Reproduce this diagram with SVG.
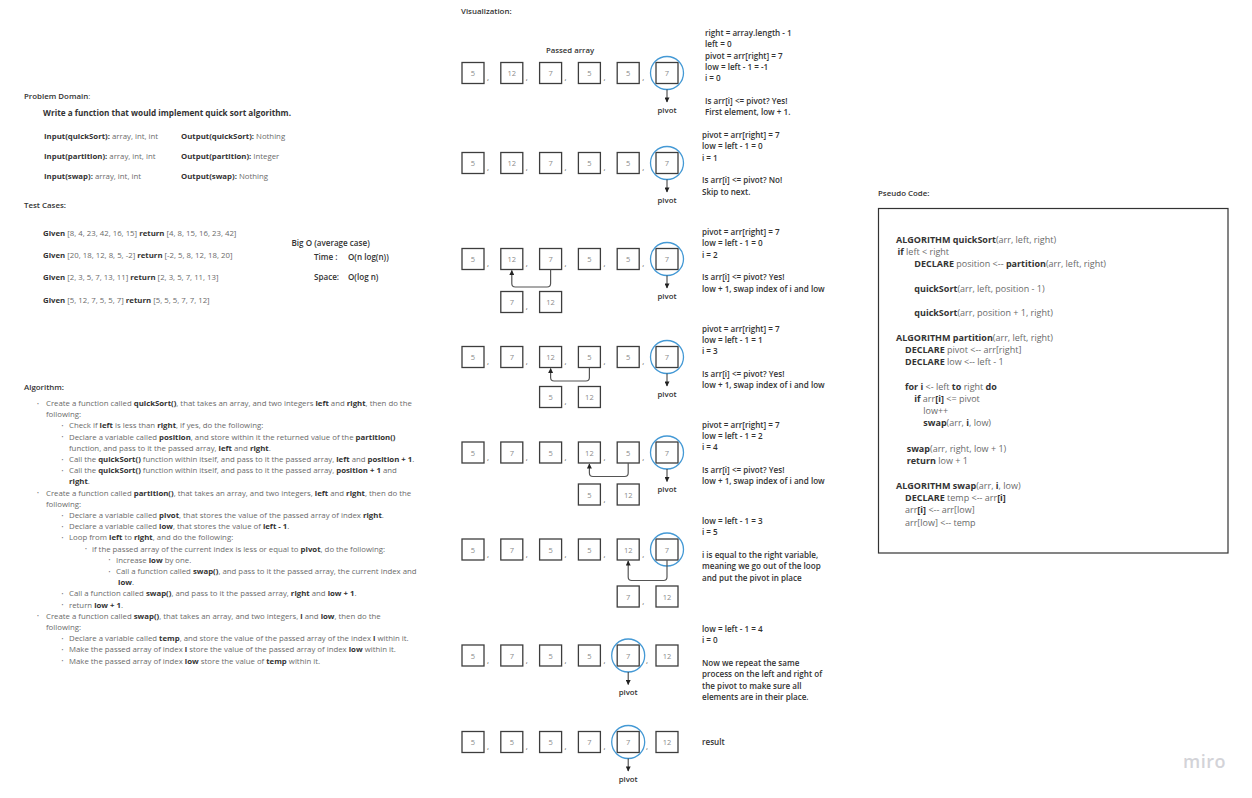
<svg xmlns="http://www.w3.org/2000/svg" width="1252" height="798" viewBox="0 0 1252 798">
<style>
text{font-family:"Open Sans","Liberation Sans",sans-serif;}
.h{font-size:7.9px;font-weight:600;fill:#333}
.bo{font-size:8.1px;font-weight:600;fill:#333}
.r{fill:#6a6a6a}
.b{font-weight:700;fill:#333}
.pd{font-size:7.8px;fill:#6a6a6a}
.wr{font-size:8.2px;font-weight:700;fill:#333}
.alg{font-size:7.8px;fill:#6a6a6a}
.bul{font-size:5px;fill:#777}
.ps{font-size:9px;fill:#6a6a6a}
.st{font-size:8.1px;font-weight:600;fill:#333}
.cell{fill:#fff;stroke:#3d3d3d;stroke-width:1.3}
.num{font-size:7.5px;fill:#8a8a8a;text-anchor:middle}
.cm{font-size:8px;fill:#555}
.pv{fill:none;stroke:#4499d5;stroke-width:1.3}
.pl{font-size:7.8px;font-weight:600;fill:#333;text-anchor:middle}
.ar{fill:none;stroke:#333;stroke-width:1}
.sw{fill:none;stroke:#555;stroke-width:1.2}
</style>
<defs>
<marker id="ah" viewBox="0 0 10 10" refX="9" refY="5" markerWidth="6" markerHeight="5" orient="auto" markerUnits="userSpaceOnUse"><path d="M0,0 L10,5 L0,10 z" fill="#222"/></marker>
</defs>
<rect width="1252" height="798" fill="#fff"/>

<g id="problem-domain">
<text class="h" x="24" y="98.5">Problem Domain<tspan class="r" font-weight="400">:</tspan></text>
<text class="wr" x="43" y="116">Write a function that would implement quick sort algorithm.</text>
<text class="pd" x="44" y="138.5"><tspan class="b">Input(quickSort):</tspan> array, int, int</text>
<text class="pd" x="181" y="138.5"><tspan class="b">Output(quickSort):</tspan> Nothing</text>
<text class="pd" x="44" y="158.5"><tspan class="b">Input(partition):</tspan> array, int, int</text>
<text class="pd" x="181" y="158.5"><tspan class="b">Output(partition):</tspan> Integer</text>
<text class="pd" x="44" y="178.5"><tspan class="b">Input(swap):</tspan> array, int, int</text>
<text class="pd" x="181" y="178.5"><tspan class="b">Output(swap):</tspan> Nothing</text>
</g>

<g id="test-cases">
<text class="h" x="24" y="208">Test Cases:</text>
<text class="pd" x="43" y="236"><tspan class="b">Given</tspan> [8, 4, 23, 42, 16, 15] <tspan class="b">return</tspan> [4, 8, 15, 16, 23, 42]</text>
<text class="pd" x="43" y="258"><tspan class="b">Given</tspan> [20, 18, 12, 8, 5, -2] <tspan class="b">return</tspan> [-2, 5, 8, 12, 18, 20]</text>
<text class="pd" x="43" y="280"><tspan class="b">Given</tspan> [2, 3, 5, 7, 13, 11] <tspan class="b">return</tspan> [2, 3, 5, 7, 11, 13]</text>
<text class="pd" x="43" y="303"><tspan class="b">Given</tspan> [5, 12, 7, 5, 5, 7] <tspan class="b">return</tspan> [5, 5, 5, 7, 7, 12]</text>
</g>

<g id="big-o">
<text class="bo" x="291.5" y="246">Big O (average case)</text>
<text class="bo" x="314" y="260">Time :</text>
<text class="bo" x="348" y="260">O(n log(n))</text>
<text class="bo" x="314" y="280">Space:</text>
<text class="bo" x="348" y="280">O(log n)</text>
</g>

<g id="algorithm">
<text class="h" x="24" y="390">Algorithm:</text>
<text class="bul" x="37" y="405.5">•</text>
<text class="alg" x="46" y="406">Create a function called <tspan class="b">quickSort()</tspan>, that takes an array, and two integers <tspan class="b">left</tspan> and <tspan class="b">right</tspan>, then do the</text>
<text class="alg" x="46" y="417.2">following:</text>
<text class="bul" x="61.5" y="427.9">•</text>
<text class="alg" x="69" y="428.4">Check if <tspan class="b">left</tspan> is less than <tspan class="b">right</tspan>, if yes, do the following:</text>
<text class="bul" x="61.5" y="439.1">•</text>
<text class="alg" x="69" y="439.6">Declare a variable called <tspan class="b">position</tspan>, and store within it the returned value of the <tspan class="b">partition()</tspan></text>
<text class="alg" x="69" y="450.8">function, and pass to it the passed array, <tspan class="b">left</tspan> and  <tspan class="b">right</tspan>.</text>
<text class="bul" x="61.5" y="461.5">•</text>
<text class="alg" x="69" y="462">Call the <tspan class="b">quickSort()</tspan> function within itself, and pass to it the passed array, <tspan class="b">left</tspan> and <tspan class="b">position + 1</tspan>.</text>
<text class="bul" x="61.5" y="472.7">•</text>
<text class="alg" x="69" y="473.2">Call the <tspan class="b">quickSort()</tspan> function within itself, and pass to it the passed array, <tspan class="b">position + 1</tspan> and</text>
<text class="alg" x="69" y="484.4"><tspan class="b">right</tspan>.</text>
<text class="bul" x="37" y="495.1">•</text>
<text class="alg" x="46" y="495.6">Create a function called <tspan class="b">partition()</tspan>, that takes an array, and two integers, <tspan class="b">left</tspan> and <tspan class="b">right</tspan>, then do the</text>
<text class="alg" x="46" y="506.8">following:</text>
<text class="bul" x="61.5" y="517.5">•</text>
<text class="alg" x="69" y="518">Declare a variable called <tspan class="b">pivot</tspan>, that stores the value of the passed array of index <tspan class="b">right</tspan>.</text>
<text class="bul" x="61.5" y="528.7">•</text>
<text class="alg" x="69" y="529.2">Declare a variable called <tspan class="b">low</tspan>, that stores the value of <tspan class="b">left - 1</tspan>.</text>
<text class="bul" x="61.5" y="539.9">•</text>
<text class="alg" x="69" y="540.4">Loop from <tspan class="b">left</tspan> to <tspan class="b">right</tspan>, and do the following:</text>
<text class="bul" x="85" y="551.1">•</text>
<text class="alg" x="92" y="551.6">if the passed array of the current index is less or equal to <tspan class="b">pivot</tspan>, do the following:</text>
<text class="bul" x="108.5" y="562.3">•</text>
<text class="alg" x="116" y="562.8">Increase <tspan class="b">low</tspan> by one.</text>
<text class="bul" x="108.5" y="573.5">•</text>
<text class="alg" x="116" y="574">Call a function called <tspan class="b">swap()</tspan>, and pass to it the passed array, the current index and</text>
<text class="alg" x="118" y="585.2"><tspan class="b">low</tspan>.</text>
<text class="bul" x="61.5" y="595.9">•</text>
<text class="alg" x="69" y="596.4">Call a function called <tspan class="b">swap()</tspan>, and pass to it the passed array, <tspan class="b">right</tspan> and <tspan class="b">low + 1</tspan>.</text>
<text class="bul" x="61.5" y="607.1">•</text>
<text class="alg" x="69" y="607.6">return <tspan class="b">low + 1</tspan>.</text>
<text class="bul" x="37" y="618.3">•</text>
<text class="alg" x="46" y="618.8">Create a function called <tspan class="b">swap()</tspan>, that takes an array, and two integers, <tspan class="b">i</tspan> and <tspan class="b">low</tspan>, then do the</text>
<text class="alg" x="46" y="630">following:</text>
<text class="bul" x="61.5" y="640.7">•</text>
<text class="alg" x="69" y="641.2">Declare a variable called <tspan class="b">temp</tspan>, and store the value of the passed array of the index <tspan class="b">i</tspan> within it.</text>
<text class="bul" x="61.5" y="651.9">•</text>
<text class="alg" x="69" y="652.4">Make the passed array of index <tspan class="b">i</tspan> store the value of the passed array of index <tspan class="b">low</tspan> within it.</text>
<text class="bul" x="61.5" y="663.1">•</text>
<text class="alg" x="69" y="663.6">Make the passed array of index <tspan class="b">low</tspan> store the value of <tspan class="b">temp</tspan> within it.</text>
</g>

<g id="visualization-title">
<text class="h" x="461" y="14">Visualization:</text>
<text class="pl" x="570" y="53">Passed array</text>
</g>

<g id="row1" transform="translate(0,73)">
<rect class="cell" x="462" y="-10.5" width="22" height="21"/><rect class="cell" x="500.8" y="-10.5" width="22" height="21"/><rect class="cell" x="539.6" y="-10.5" width="22" height="21"/><rect class="cell" x="578.4" y="-10.5" width="22" height="21"/><rect class="cell" x="617.2" y="-10.5" width="22" height="21"/><rect class="cell" x="656" y="-10.5" width="22" height="21"/>
<text class="num" x="473" y="3">5</text><text class="num" x="511.8" y="3">12</text><text class="num" x="550.6" y="3">7</text><text class="num" x="589.4" y="3">5</text><text class="num" x="628.2" y="3">5</text><text class="num" x="667" y="3">7</text>
<text class="cm" x="487" y="7">,</text><text class="cm" x="525.8" y="7">,</text><text class="cm" x="564.6" y="7">,</text><text class="cm" x="603.4" y="7">,</text><text class="cm" x="642.2" y="7">,</text>
<circle class="pv" cx="667" cy="0" r="16.5"/>
<text class="pl" x="667" y="39.5">pivot</text>
</g>
<g id="row1-text">
<text class="st" x="705" y="36">right = array.length - 1</text>
<text class="st" x="705" y="47.3">left = 0</text>
<text class="st" x="705" y="58.6">pivot = arr[right] = 7</text>
<text class="st" x="705" y="69.9">low = left - 1 = -1</text>
<text class="st" x="705" y="81.2">i = 0</text>
<text class="st" x="705" y="103.8">Is arr[i] &lt;= pivot? Yes!</text>
<text class="st" x="705" y="115.1">First element, low + 1.</text>
</g>

<g id="row2" transform="translate(0,163)">
<rect class="cell" x="462" y="-10.5" width="22" height="21"/><rect class="cell" x="500.8" y="-10.5" width="22" height="21"/><rect class="cell" x="539.6" y="-10.5" width="22" height="21"/><rect class="cell" x="578.4" y="-10.5" width="22" height="21"/><rect class="cell" x="617.2" y="-10.5" width="22" height="21"/><rect class="cell" x="656" y="-10.5" width="22" height="21"/>
<text class="num" x="473" y="3">5</text><text class="num" x="511.8" y="3">12</text><text class="num" x="550.6" y="3">7</text><text class="num" x="589.4" y="3">5</text><text class="num" x="628.2" y="3">5</text><text class="num" x="667" y="3">7</text>
<text class="cm" x="487" y="7">,</text><text class="cm" x="525.8" y="7">,</text><text class="cm" x="564.6" y="7">,</text><text class="cm" x="603.4" y="7">,</text><text class="cm" x="642.2" y="7">,</text>
<circle class="pv" cx="667" cy="0" r="16.5"/>
<text class="pl" x="667" y="39.5">pivot</text>
</g>
<g id="row2-text">
<text class="st" x="702" y="138">pivot = arr[right] = 7</text>
<text class="st" x="702" y="149.3">low = left - 1 = 0</text>
<text class="st" x="702" y="160.6">i = 1</text>
<text class="st" x="702" y="183.2">Is arr[i] &lt;= pivot? No!</text>
<text class="st" x="702" y="194.5">Skip to next.</text>
</g>

<g id="row3" transform="translate(0,259)">
<rect class="cell" x="462" y="-10.5" width="22" height="21"/><rect class="cell" x="500.8" y="-10.5" width="22" height="21"/><rect class="cell" x="539.6" y="-10.5" width="22" height="21"/><rect class="cell" x="578.4" y="-10.5" width="22" height="21"/><rect class="cell" x="617.2" y="-10.5" width="22" height="21"/><rect class="cell" x="656" y="-10.5" width="22" height="21"/>
<text class="num" x="473" y="3">5</text><text class="num" x="511.8" y="3">12</text><text class="num" x="550.6" y="3">7</text><text class="num" x="589.4" y="3">5</text><text class="num" x="628.2" y="3">5</text><text class="num" x="667" y="3">7</text>
<text class="cm" x="487" y="7">,</text><text class="cm" x="525.8" y="7">,</text><text class="cm" x="564.6" y="7">,</text><text class="cm" x="603.4" y="7">,</text><text class="cm" x="642.2" y="7">,</text>
<circle class="pv" cx="667" cy="0" r="16.5"/>
<text class="pl" x="667" y="39.5">pivot</text>
<rect class="cell" x="500.8" y="32.5" width="22" height="21"/><rect class="cell" x="539.6" y="32.5" width="22" height="21"/>
<text class="num" x="511.8" y="46">7</text><text class="num" x="550.6" y="46">12</text>
<text class="cm" x="525.8" y="50">,</text>
</g>
<g id="row3-text">
<text class="st" x="702" y="235">pivot = arr[right] = 7</text>
<text class="st" x="702" y="246.3">low = left - 1 = 0</text>
<text class="st" x="702" y="257.6">i = 2</text>
<text class="st" x="702" y="280.2">Is arr[i] &lt;= pivot? Yes!</text>
<text class="st" x="702" y="291.5">low + 1, swap index of i and low</text>
</g>

<g id="row4" transform="translate(0,357)">
<rect class="cell" x="462" y="-10.5" width="22" height="21"/><rect class="cell" x="500.8" y="-10.5" width="22" height="21"/><rect class="cell" x="539.6" y="-10.5" width="22" height="21"/><rect class="cell" x="578.4" y="-10.5" width="22" height="21"/><rect class="cell" x="617.2" y="-10.5" width="22" height="21"/><rect class="cell" x="656" y="-10.5" width="22" height="21"/>
<text class="num" x="473" y="3">5</text><text class="num" x="511.8" y="3">7</text><text class="num" x="550.6" y="3">12</text><text class="num" x="589.4" y="3">5</text><text class="num" x="628.2" y="3">5</text><text class="num" x="667" y="3">7</text>
<text class="cm" x="487" y="7">,</text><text class="cm" x="525.8" y="7">,</text><text class="cm" x="564.6" y="7">,</text><text class="cm" x="603.4" y="7">,</text><text class="cm" x="642.2" y="7">,</text>
<circle class="pv" cx="667" cy="0" r="16.5"/>
<text class="pl" x="667" y="39.5">pivot</text>
<rect class="cell" x="539.6" y="29.5" width="22" height="21"/><rect class="cell" x="578.4" y="29.5" width="22" height="21"/>
<text class="num" x="550.6" y="43">5</text><text class="num" x="589.4" y="43">12</text>
<text class="cm" x="564.6" y="47">,</text>
</g>
<g id="row4-text">
<text class="st" x="702" y="331.5">pivot = arr[right] = 7</text>
<text class="st" x="702" y="342.8">low = left - 1 = 1</text>
<text class="st" x="702" y="354.1">i = 3</text>
<text class="st" x="702" y="376.7">Is arr[i] &lt;= pivot? Yes!</text>
<text class="st" x="702" y="388">low + 1, swap index of i and low</text>
</g>

<g id="row5" transform="translate(0,452.5)">
<rect class="cell" x="462" y="-10.5" width="22" height="21"/><rect class="cell" x="500.8" y="-10.5" width="22" height="21"/><rect class="cell" x="539.6" y="-10.5" width="22" height="21"/><rect class="cell" x="578.4" y="-10.5" width="22" height="21"/><rect class="cell" x="617.2" y="-10.5" width="22" height="21"/><rect class="cell" x="656" y="-10.5" width="22" height="21"/>
<text class="num" x="473" y="3">5</text><text class="num" x="511.8" y="3">7</text><text class="num" x="550.6" y="3">5</text><text class="num" x="589.4" y="3">12</text><text class="num" x="628.2" y="3">5</text><text class="num" x="667" y="3">7</text>
<text class="cm" x="487" y="7">,</text><text class="cm" x="525.8" y="7">,</text><text class="cm" x="564.6" y="7">,</text><text class="cm" x="603.4" y="7">,</text><text class="cm" x="642.2" y="7">,</text>
<circle class="pv" cx="667" cy="0" r="16.5"/>
<text class="pl" x="667" y="39.5">pivot</text>
<rect class="cell" x="578.4" y="31.5" width="22" height="21"/><rect class="cell" x="617.2" y="31.5" width="22" height="21"/>
<text class="num" x="589.4" y="45">5</text><text class="num" x="628.2" y="45">12</text>
<text class="cm" x="603.4" y="49">,</text>
</g>
<g id="row5-text">
<text class="st" x="702" y="427.5">pivot = arr[right] = 7</text>
<text class="st" x="702" y="438.8">low = left - 1 = 2</text>
<text class="st" x="702" y="450.1">i = 4</text>
<text class="st" x="702" y="472.7">Is arr[i] &lt;= pivot? Yes!</text>
<text class="st" x="702" y="484">low + 1, swap index of i and low</text>
</g>

<g id="row6" transform="translate(0,549.5)">
<rect class="cell" x="462" y="-10.5" width="22" height="21"/><rect class="cell" x="500.8" y="-10.5" width="22" height="21"/><rect class="cell" x="539.6" y="-10.5" width="22" height="21"/><rect class="cell" x="578.4" y="-10.5" width="22" height="21"/><rect class="cell" x="617.2" y="-10.5" width="22" height="21"/><rect class="cell" x="656" y="-10.5" width="22" height="21"/>
<text class="num" x="473" y="3">5</text><text class="num" x="511.8" y="3">7</text><text class="num" x="550.6" y="3">5</text><text class="num" x="589.4" y="3">5</text><text class="num" x="628.2" y="3">12</text><text class="num" x="667" y="3">7</text>
<text class="cm" x="487" y="7">,</text><text class="cm" x="525.8" y="7">,</text><text class="cm" x="564.6" y="7">,</text><text class="cm" x="603.4" y="7">,</text><text class="cm" x="642.2" y="7">,</text>
<circle class="pv" cx="667" cy="0" r="16.5"/>
<rect class="cell" x="617.2" y="36.5" width="22" height="21"/><rect class="cell" x="656" y="36.5" width="22" height="21"/>
<text class="num" x="628.2" y="50">7</text><text class="num" x="667" y="50">12</text>
<text class="cm" x="642.2" y="54">,</text>
</g>
<g id="row6-text">
<text class="st" x="702" y="524">low = left - 1 = 3</text>
<text class="st" x="702" y="535.3">i = 5</text>
<text class="st" x="702" y="558">i is equal to the right variable,</text>
<text class="st" x="702" y="569.3">meaning we go out of the loop</text>
<text class="st" x="702" y="580.6">and put the pivot in place</text>
</g>

<g id="row7" transform="translate(0,655.5)">
<rect class="cell" x="462" y="-10.5" width="22" height="21"/><rect class="cell" x="500.8" y="-10.5" width="22" height="21"/><rect class="cell" x="539.6" y="-10.5" width="22" height="21"/><rect class="cell" x="578.4" y="-10.5" width="22" height="21"/><rect class="cell" x="617.2" y="-10.5" width="22" height="21"/><rect class="cell" x="656" y="-10.5" width="22" height="21"/>
<text class="num" x="473" y="3">5</text><text class="num" x="511.8" y="3">7</text><text class="num" x="550.6" y="3">5</text><text class="num" x="589.4" y="3">5</text><text class="num" x="628.2" y="3">7</text><text class="num" x="667" y="3">12</text>
<text class="cm" x="487" y="7">,</text><text class="cm" x="525.8" y="7">,</text><text class="cm" x="564.6" y="7">,</text><text class="cm" x="603.4" y="7">,</text><text class="cm" x="646" y="7">,</text>
<circle class="pv" cx="628.2" cy="0" r="16.5"/>
<text class="pl" x="628.2" y="39.5">pivot</text>
</g>
<g id="row7-text">
<text class="st" x="702" y="632">low = left - 1 = 4</text>
<text class="st" x="702" y="643.3">i = 0</text>
<text class="st" x="702" y="665.9">Now we repeat the same</text>
<text class="st" x="702" y="677.2">process on the left and right of</text>
<text class="st" x="702" y="688.5">the pivot to make sure all</text>
<text class="st" x="702" y="699.8">elements are in their place.</text>
</g>

<g id="row8" transform="translate(0,742)">
<rect class="cell" x="462" y="-10.5" width="22" height="21"/><rect class="cell" x="500.8" y="-10.5" width="22" height="21"/><rect class="cell" x="539.6" y="-10.5" width="22" height="21"/><rect class="cell" x="578.4" y="-10.5" width="22" height="21"/><rect class="cell" x="617.2" y="-10.5" width="22" height="21"/><rect class="cell" x="656" y="-10.5" width="22" height="21"/>
<text class="num" x="473" y="3">5</text><text class="num" x="511.8" y="3">5</text><text class="num" x="550.6" y="3">5</text><text class="num" x="589.4" y="3">7</text><text class="num" x="628.2" y="3">7</text><text class="num" x="667" y="3">12</text>
<text class="cm" x="487" y="7">,</text><text class="cm" x="525.8" y="7">,</text><text class="cm" x="564.6" y="7">,</text><text class="cm" x="603.4" y="7">,</text><text class="cm" x="646" y="7">,</text>
<circle class="pv" cx="628.2" cy="0" r="16.5"/>
<text class="pl" x="628.2" y="39.5">pivot</text>
</g>
<g id="row8-text">
<text class="st" x="702" y="745">result</text>
</g>

<g id="connectors">
<line class="ar" x1="667" y1="89.5" x2="667" y2="102" marker-end="url(#ah)"/>
<line class="ar" x1="667" y1="179.5" x2="667" y2="192" marker-end="url(#ah)"/>
<line class="ar" x1="667" y1="275.5" x2="667" y2="288" marker-end="url(#ah)"/>
<line class="ar" x1="667" y1="373.5" x2="667" y2="386" marker-end="url(#ah)"/>
<line class="ar" x1="667" y1="469" x2="667" y2="481.5" marker-end="url(#ah)"/>
<line class="ar" x1="628.2" y1="672" x2="628.2" y2="684.5" marker-end="url(#ah)"/>
<line class="ar" x1="628.2" y1="758.5" x2="628.2" y2="771" marker-end="url(#ah)"/>
<path class="sw" d="M550.6,269.5 V283.5 Q550.6,287 547.1,287 H515.3 Q511.8,287 511.8,283.5 V270.5" marker-end="url(#ah)"/>
<path class="sw" d="M589.4,367.5 V377.5 Q589.4,381 585.9,381 H554.1 Q550.6,381 550.6,377.5 V368.5" marker-end="url(#ah)"/>
<path class="sw" d="M628.2,463 V473 Q628.2,476.5 624.7,476.5 H592.9 Q589.4,476.5 589.4,473 V464" marker-end="url(#ah)"/>
<path class="sw" d="M667,560 V577 Q667,580.5 663.5,580.5 H631.7 Q628.2,580.5 628.2,577 V561" marker-end="url(#ah)"/>
</g>

<g id="pseudo-code">
<text class="h" x="878" y="196">Pseudo Code:</text>
<rect x="878.5" y="208.5" width="349.5" height="344.5" fill="#fff" stroke="#333" stroke-width="1.2"/>
<text class="ps" x="896" y="243"><tspan class="b">ALGORITHM quickSort</tspan>(arr, left, right)</text>
<text class="ps" x="897.5" y="255"><tspan class="b">if</tspan> left &lt; right</text>
<text class="ps" x="914.3" y="267"><tspan class="b">DECLARE</tspan> position &lt;-- <tspan class="b">partition</tspan>(arr, left, right)</text>
<text class="ps" x="914.3" y="291.5"><tspan class="b">quickSort</tspan>(arr, left, position - 1)</text>
<text class="ps" x="914.3" y="315.5"><tspan class="b">quickSort</tspan>(arr, position + 1, right)</text>
<text class="ps" x="896" y="341"><tspan class="b">ALGORITHM partition</tspan>(arr, left, right)</text>
<text class="ps" x="905" y="352.5"><tspan class="b">DECLARE</tspan> pivot &lt;-- arr[right]</text>
<text class="ps" x="905" y="364.5"><tspan class="b">DECLARE</tspan> low &lt;-- left - 1</text>
<text class="ps" x="905" y="389.5"><tspan class="b">for i</tspan> &lt;- left <tspan class="b">to</tspan> right <tspan class="b">do</tspan></text>
<text class="ps" x="914.3" y="401.5"><tspan class="b">if</tspan> arr<tspan class="b">[i]</tspan> &lt;= pivot</text>
<text class="ps" x="923.3" y="414">low++</text>
<text class="ps" x="923.3" y="426"><tspan class="b">swap</tspan>(arr, <tspan class="b">i</tspan>, low)</text>
<text class="ps" x="906.7" y="451.5"><tspan class="b">swap</tspan>(arr, right, low + 1)</text>
<text class="ps" x="906.7" y="464"><tspan class="b">return</tspan> low + 1</text>
<text class="ps" x="896" y="488.5"><tspan class="b">ALGORITHM swap</tspan>(arr, <tspan class="b">i</tspan>, low)</text>
<text class="ps" x="905" y="501"><tspan class="b">DECLARE</tspan> temp &lt;-- arr<tspan class="b">[i]</tspan></text>
<text class="ps" x="905" y="513">arr<tspan class="b">[i]</tspan> &lt;-- arr[low]</text>
<text class="ps" x="905" y="526">arr[low] &lt;-- temp</text>
</g>

<g id="watermark">
<text x="1183" y="768" font-size="18" font-weight="600" fill="#d3d3d8" letter-spacing="0.5">miro</text>
</g>
</svg>
